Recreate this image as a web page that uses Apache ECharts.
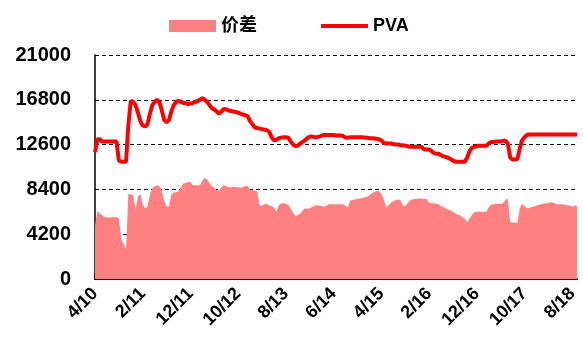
<!DOCTYPE html>
<html>
<head>
<meta charset="utf-8">
<script src="https://cdn.jsdelivr.net/npm/echarts@6/dist/echarts.min.js"></script>
<style>
  html, body { margin: 0; padding: 0; background: #fff; }
  #chart { width: 583px; height: 338px; }
</style>
</head>
<body>
<div id="chart"></div>
<script>
// Half-monthly observations, April 2010 to September 2018
const startYear = 2010;
const startMonth = 4;
const pointCount = 203;

const yTicks = [0, 4200, 8400, 12600, 16800, 21000];

// PVA price (yuan/ton)
const pvaValues = [
  11900, 13100, 13100, 12900, 12900, 12900, 12900, 12900, 12900, 12900,
  11100, 11000, 11000, 11000, 14500, 16700, 16600, 16300, 15600, 14800,
  14400, 14300, 14500, 15500, 16300, 16600, 16800, 16600, 15800, 14900,
  14700, 14900, 15700, 16300, 16600, 16700, 16600, 16500, 16500, 16400,
  16450, 16500, 16600, 16700, 16800, 16950, 16800, 16600, 16300, 16000,
  15900, 15700, 15500, 15700, 15950, 15900, 15800, 15750, 15700, 15650,
  15600, 15500, 15400, 15350, 15250, 14800, 14500, 14200, 14150, 14100,
  14050, 14000, 13950, 13800, 13300, 13000, 13050, 13200, 13250, 13300,
  13300, 13250, 12900, 12600, 12450, 12500, 12700, 12850, 13000, 13200,
  13350, 13350, 13300, 13300, 13350, 13450, 13500, 13500, 13500, 13500,
  13500, 13450, 13450, 13450, 13400, 13250, 13250, 13300, 13300, 13300,
  13300, 13300, 13300, 13250, 13250, 13200, 13200, 13180, 13150, 13100,
  13000, 12750, 12700, 12700, 12700, 12650, 12600, 12600, 12550, 12550,
  12500, 12450, 12400, 12400, 12400, 12400, 12400, 12350, 12150, 12150,
  12150, 12000, 11800, 11750, 11750, 11600, 11500, 11450, 11350, 11250,
  11100, 11000, 11000, 11000, 11000, 11000, 11400, 12000, 12300, 12400,
  12450, 12500, 12500, 12500, 12500, 12700, 12850, 12850, 12900, 12900,
  12900, 12950, 12950, 12700, 11400, 11200, 11200, 11250, 12200, 13000,
  13300, 13500, 13550, 13550, 13550, 13550, 13550, 13550, 13550, 13550,
  13550, 13550, 13550, 13550, 13550, 13550, 13550, 13550, 13550, 13550,
  13550, 13550, 13550
];

// Spread (yuan/ton)
const spreadValues = [
  5000, 6400, 6100, 6000, 5800, 5800, 5750, 5800, 5800, 5800,
  5700, 3700, 3300, 2800, 8000, 7950, 7850, 6500, 7700, 8000,
  7000, 6600, 6800, 7900, 8500, 8700, 8800, 8700, 8300, 7300,
  6800, 6800, 7900, 8100, 8150, 8200, 8600, 8950, 9000, 9100,
  9100, 8800, 8800, 8800, 8800, 9200, 9500, 9300, 9000, 8700,
  8550, 8350, 8300, 8600, 8800, 8700, 8600, 8600, 8650, 8600,
  8600, 8550, 8600, 8750, 8700, 8400, 8350, 8300, 8200, 6900,
  6900, 7000, 7050, 6900, 6850, 6700, 6300, 6900, 7100, 7100,
  7050, 6950, 6600, 6200, 5900, 6000, 6150, 6400, 6600, 6600,
  6600, 6750, 6900, 6900, 6900, 6850, 6750, 6900, 7000, 7000,
  7000, 7000, 7000, 7000, 7000, 6850, 6750, 7350, 7400, 7450,
  7500, 7550, 7600, 7650, 7700, 7850, 8050, 8150, 8250, 8250,
  8000, 7500, 6700, 6900, 7150, 7300, 7400, 7450, 7400, 6900,
  6850, 7100, 7350, 7450, 7500, 7550, 7550, 7550, 7500, 7500,
  7150, 7100, 7100, 7050, 7000, 6850, 6750, 6600, 6500, 6450,
  6300, 6150, 6050, 5950, 5800, 5650, 5300, 5700, 6000, 6250,
  6300, 6300, 6300, 6300, 6300, 6700, 6950, 7000, 7050, 7050,
  7050, 7100, 7400, 7550, 5350, 5300, 5250, 5250, 6600, 7050,
  6850, 6600, 6650, 6750, 6800, 6900, 6950, 7000, 7050, 7100,
  7150, 7200, 7150, 7050, 7000, 7000, 7000, 6950, 6900, 6900,
  6750, 6900, 6850
];

// Category dates: the 1st and the 16th of each month
const categories = [];
for (let i = 0; i < pointCount; i++) {
  const m = startMonth - 1 + Math.floor(i / 2);
  const y = startYear + Math.floor(m / 12);
  const mm = (m % 12) + 1;
  categories.push(y + '-' + String(mm).padStart(2, '0') + '-' + (i % 2 === 0 ? '01' : '16'));
}

const labelEvery = 20; // one label every ten months
const showAt = (idx) => idx % labelEvery === 0;

const chart = echarts.init(document.getElementById('chart'), null, { renderer: 'canvas' });

const fontFamily = '"Liberation Sans", Arial, "Noto Sans CJK SC", sans-serif';

// Thick horizontal bar in the middle of a 47x12 box, used as the line legend icon
const lineIcon = 'path://M0,0L0,0M0,4L47,4L47,8L0,8ZM47,12L47,12';

chart.setOption({
  animation: false,
  backgroundColor: '#ffffff',
  textStyle: { fontFamily: fontFamily },
  legend: {
    left: 164,
    top: 12,
    itemWidth: 47,
    itemHeight: 12,
    itemGap: 64,
    textStyle: { fontSize: 18, fontWeight: 'bold', color: '#000', fontFamily: fontFamily },
    data: [
      { name: '价差', icon: 'rect' },
      { name: 'PVA', icon: lineIcon, itemStyle: { color: '#FF0000' } }
    ]
  },
  grid: { left: 95, right: 6, top: 55, bottom: 59, containLabel: false },
  xAxis: {
    type: 'category',
    data: categories,
    boundaryGap: false,
    axisLine: { show: true, lineStyle: { color: '#000', width: 2 } },
    axisTick: { show: true, inside: true, length: 5, interval: (idx) => showAt(idx), lineStyle: { color: '#000', width: 1.5 } },
    axisLabel: {
      interval: (idx) => showAt(idx),
      rotate: 45,
      margin: 12,
      color: '#000',
      fontSize: 18,
      fontWeight: 'bold',
      fontFamily: fontFamily,
      formatter: (v) => {
        const p = v.split('-');
        return parseInt(p[1], 10) + '/' + p[0].slice(2);
      }
    },
    splitLine: { show: false }
  },
  yAxis: {
    type: 'value',
    min: yTicks[0],
    max: yTicks[yTicks.length - 1],
    interval: yTicks[1] - yTicks[0],
    axisLine: { show: true, lineStyle: { color: '#000', width: 1.5 } },
    axisTick: { show: false },
    axisLabel: {
      color: '#000', fontSize: 20, fontWeight: 'bold', margin: 24, fontFamily: fontFamily,
      formatter: (v) => String(v)
    },
    splitLine: { show: true, lineStyle: { color: '#000', width: 1, type: [4, 3] } }
  },
  series: [
    {
      name: '价差',
      type: 'line',
      data: spreadValues,
      symbol: 'none',
      showSymbol: false,
      lineStyle: { width: 0, color: '#FF8080' },
      itemStyle: { color: '#FF8080' },
      areaStyle: { color: '#FF8080', opacity: 1 },
      z: 2
    },
    {
      name: 'PVA',
      type: 'line',
      data: pvaValues,
      symbol: 'none',
      showSymbol: false,
      lineStyle: { width: 4, color: '#FF0000' },
      itemStyle: { color: '#FF0000' },
      z: 3
    }
  ]
});
</script>
</body>
</html>
